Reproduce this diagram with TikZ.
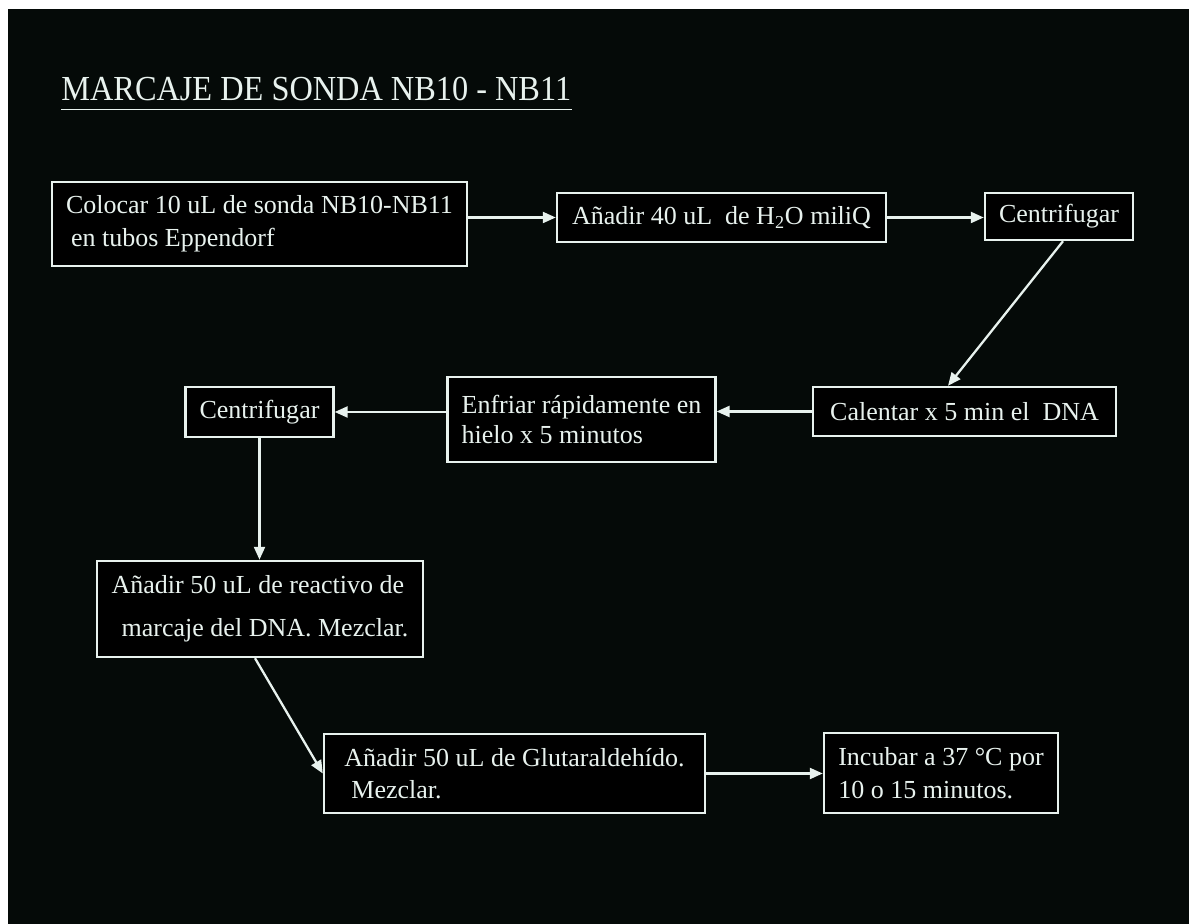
\documentclass[tikz,border=0pt]{standalone}
\usepackage{fontspec}
\setmainfont{Liberation Serif}
\usepackage{graphicx}
\usepackage{tikz}
\usetikzlibrary{arrows.meta, positioning, calc}
\usepackage{xcolor}
\definecolor{pizarra}{RGB}{5,10,8}
\definecolor{tiza}{RGB}{232,242,238}

\begin{document}
\begin{tikzpicture}[
  paso/.style={draw=tiza, line width=1.4pt, fill=black, text=tiza, inner xsep=0.28cm, inner ysep=0pt, align=left, font=\fontsize{14.8}{18.5}\selectfont},
  flecha/.style={-{Triangle[length=2.6mm, width=2.2mm]}, tiza, line width=1.3pt}
]
  \useasboundingbox (0,0) rectangle (23.78,18.48);
  \fill[white] (0,0) rectangle (23.78,18.48);
  \fill[pizarra] (0.16,0) rectangle (23.78,18.30);

  \node[anchor=base west, inner sep=0pt, text=tiza, font=\fontsize{20}{24}\selectfont] (titulo) at (1.22,16.46) {\scalebox{0.92}[1]{MARCAJE DE SONDA NB10 - NB11}};
  \draw[tiza, line width=1pt] ([yshift=-0.17cm]titulo.base west) -- ([yshift=-0.17cm]titulo.base east);

  \node[paso, minimum width=8.22cm, minimum height=1.68cm] (colocar) at (5.19,14.00) {Colocar 10 uL de sonda NB10-NB11\\ \hspace*{0.1cm}en tubos Eppendorf};
  \node[paso, minimum width=6.58cm, minimum height=0.98cm] (anadir) at (14.43,14.13) {Añadir 40 uL\ \ de H\textsubscript{2}O miliQ};
  \node[paso, minimum width=2.96cm, minimum height=0.94cm] (centri) at (21.18,14.15) {Centrifugar};
  \node[paso, minimum width=6.06cm, minimum height=0.98cm] (calentar) at (19.29,10.25) {Calentar x 5 min el\ \ DNA};
  \node[paso, minimum width=5.34cm, minimum height=1.70cm] (enfriar) at (11.63,10.09) {Enfriar rápidamente en\\[-1pt] hielo x 5 minutos};
  \node[paso, minimum width=2.94cm, minimum height=1.00cm] (centrib) at (5.19,10.24) {Centrifugar};
  \node[paso, minimum width=6.52cm, minimum height=1.92cm] (reactivo) at (5.20,6.30) {Añadir 50 uL de reactivo de\\[6pt] \hspace*{0.2cm}marcaje del DNA. Mezclar.};
  \node[paso, minimum width=7.62cm, minimum height=1.58cm] (glutar) at (10.29,3.01) {Añadir 50 uL de Glutaraldehído.\\ \hspace*{0.14cm}Mezclar.};
  \node[paso, minimum width=4.68cm, minimum height=1.60cm] (incubar) at (18.82,3.02) {Incubar a 37 °C por\\ 10 o 15 minutos.};

  \draw[flecha] (colocar.east |- anadir.west) -- (anadir.west);
  \draw[flecha] (anadir.east) -- (anadir.east -| centri.west);
  \draw[flecha] ([xshift=0.08cm]centri.south) -- ([xshift=-0.33cm]calentar.north);
  \draw[flecha] (calentar.west) -- (calentar.west -| enfriar.east);
  \draw[flecha] (enfriar.west |- centrib.east) -- (centrib.east);
  \draw[flecha] (centrib.south) -- (centrib.south |- reactivo.north);
  \draw[flecha] ([xshift=-0.1cm]reactivo.south) -- (glutar.west);
  \draw[flecha] (glutar.east) -- (glutar.east -| incubar.west);
\end{tikzpicture}
\end{document}
